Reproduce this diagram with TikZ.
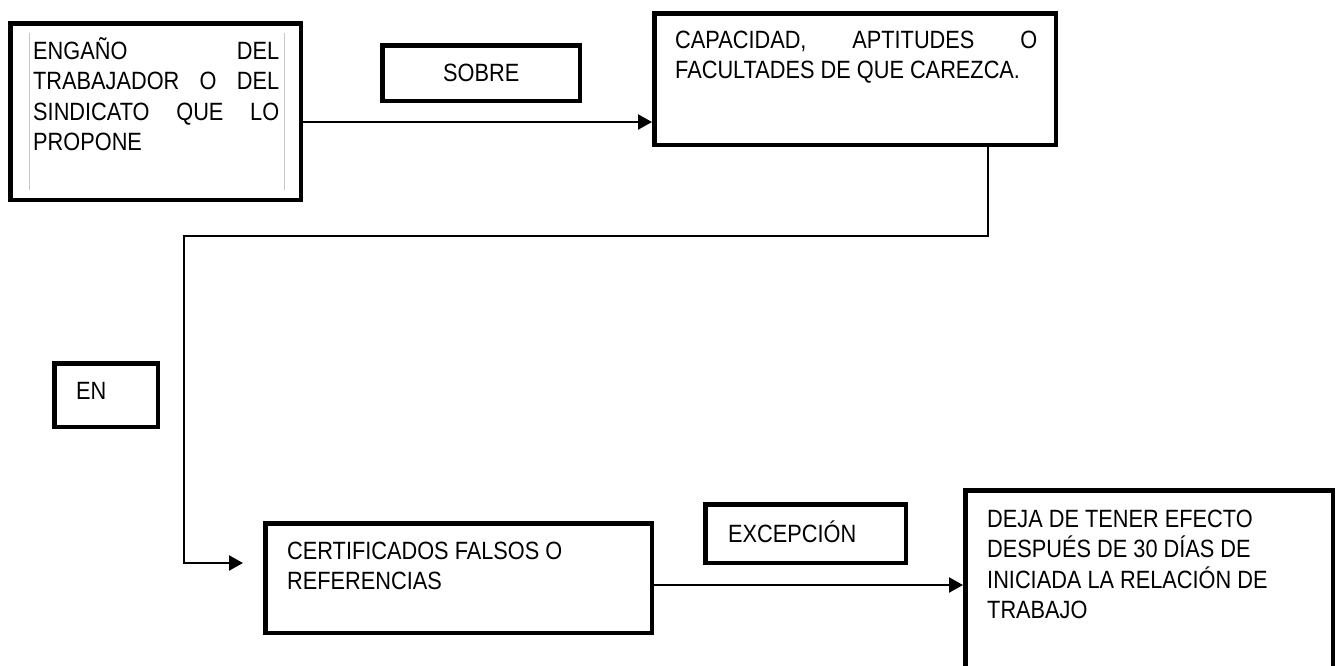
\documentclass[tikz,border=0pt]{standalone}
\usepackage{fontspec}
\setmainfont{Liberation Sans}[FakeStretch=0.87]
\usetikzlibrary{arrows.meta}
\begin{document}
\begin{tikzpicture}[x=1pt,y=-1pt,
  box/.style={draw, line width=4.5pt, inner sep=0pt, rectangle},
  txt/.style={anchor=base west, inner sep=0pt, font=\fontsize{25}{30.5}\selectfont},
  arr/.style={line width=2.2pt, -{Triangle[length=14pt,width=15pt]}},
  guide/.style={draw=black!22, line width=1pt}]
\useasboundingbox (0,0) rectangle (1336,665);
\clip (0,0) rectangle (1336,665);
% boxes
\node[box, minimum width=290.5pt, minimum height=176.5pt] (b1) at (155.5,111.5) {};
\node[box, minimum width=197.5pt, minimum height=55.5pt] (sobre) at (481,73) {};
\node[box, minimum width=401.5pt, minimum height=131.5pt] (b2) at (855,79) {};
\node[box, minimum width=103.5pt, minimum height=63.5pt] (en) at (106,395) {};
\node[box, minimum width=386.5pt, minimum height=109.5pt] (b3) at (458.5,578) {};
\node[box, minimum width=200.5pt, minimum height=58.5pt] (exc) at (805.5,533.5) {};
\node[box, minimum width=367.5pt, minimum height=207.5pt] (b5) at (1149,594) {};
% faint guide lines inside first box
\draw[guide] (29,33) -- (29,190);
\draw[guide] (284,33) -- (284,190);
% texts
\node[txt] (t1) at (33,59) {\parbox[t]{246pt}{%
  \makebox[246pt][s]{ENGAÑO DEL}\\
  \makebox[246pt][s]{TRABAJADOR O DEL}\\
  \makebox[246pt][s]{SINDICATO QUE LO}\\
  PROPONE}};
\node[txt] (tsobre) at (443,81) {SOBRE};
\node[txt] (t2) at (675,48) {\parbox[t]{362pt}{%
  \makebox[362pt][s]{CAPACIDAD, APTITUDES O}\\
  FACULTADES DE QUE CAREZCA.}};
\node[txt] (ten) at (76,399) {EN};
\node[txt] (t3) at (287,559) {\parbox[t]{340pt}{\raggedright
  CERTIFICADOS FALSOS O\\
  REFERENCIAS}};
\node[txt] (texc) at (728,542) {EXCEPCIÓN};
\node[txt] (t5) at (987,527) {\parbox[t]{340pt}{\raggedright
  DEJA DE TENER EFECTO\\
  DESPUÉS DE 30 DÍAS DE\\
  INICIADA LA RELACIÓN DE\\
  TRABAJO}};
% connectors
\coordinate (ya) at (0,122);
\coordinate (xk) at (988,0);
\coordinate (bend) at (184,236);
\coordinate (tipA) at (243,563);
\coordinate (yb) at (0,585);
\draw[arr] (b1.east |- ya) -- (b2.west |- ya);
\draw[arr] (b2.south -| xk) |- (bend) |- (tipA);
\draw[arr] (b3.east |- yb) -- (b5.west |- yb);
\end{tikzpicture}
\end{document}
